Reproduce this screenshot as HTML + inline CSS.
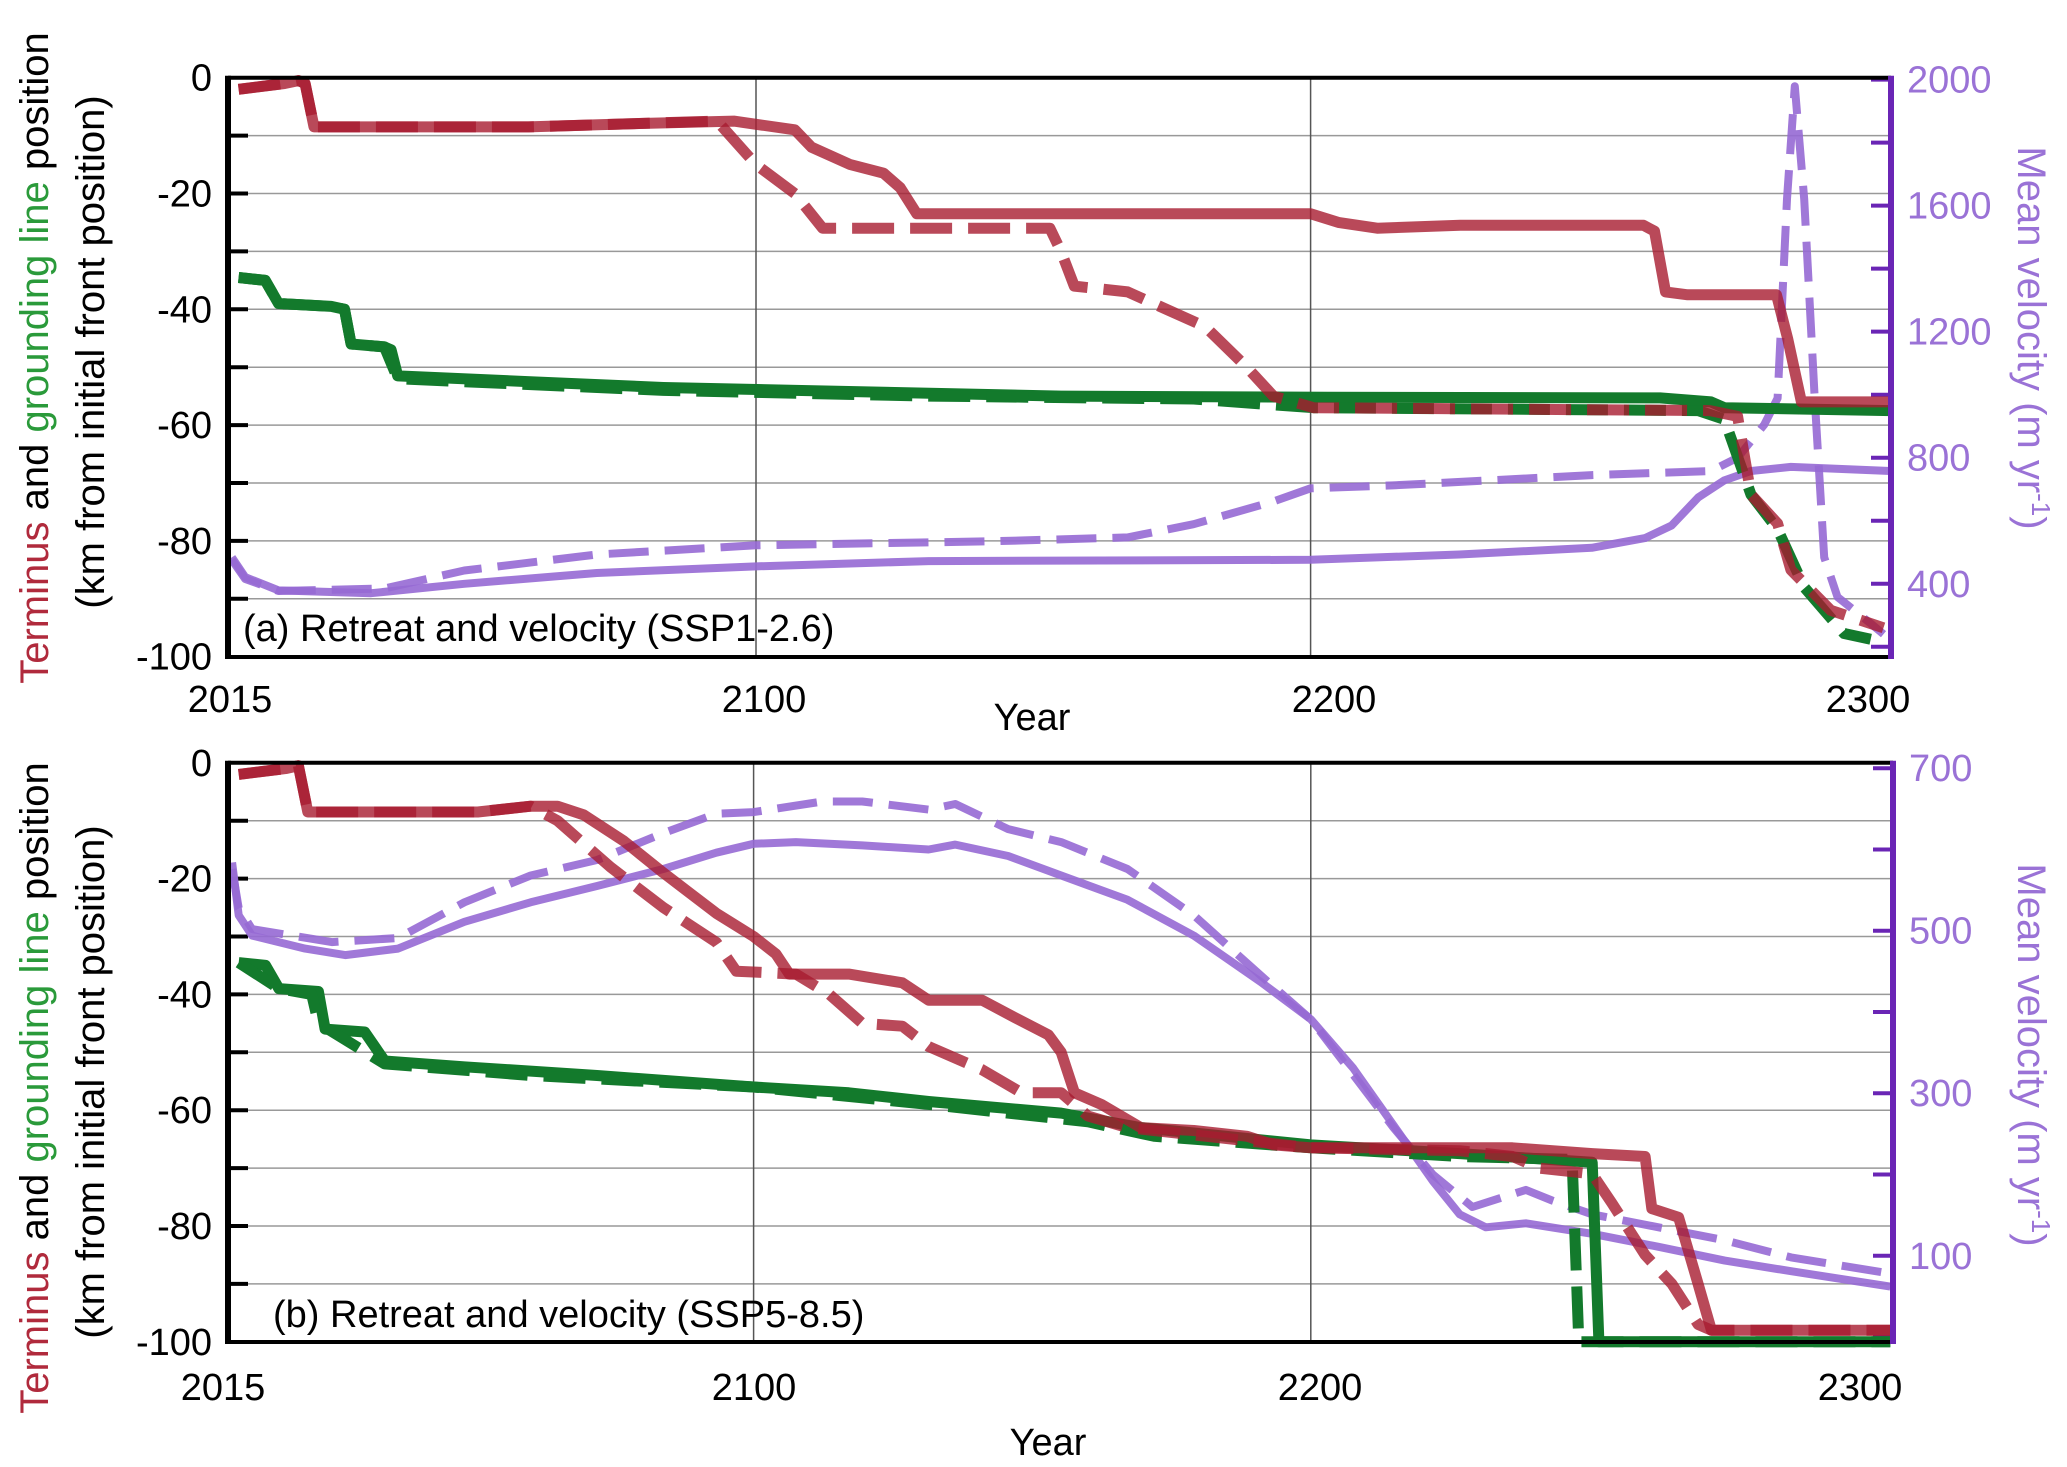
<!DOCTYPE html>
<html><head><meta charset="utf-8"><style>
html,body{margin:0;padding:0;background:#fff;}
svg{display:block;font-family:"Liberation Sans",sans-serif;}
</style></head><body>
<svg id="chart" width="2067" height="1467" viewBox="0 0 2067 1467" xmlns="http://www.w3.org/2000/svg"></svg>
<script>
// ---------- Panel (a) SSP1-2.6 data ----------
const aTermSolidYr = [2006.7,2015,2017.5,2018.7,2020.3,2059,2076,2096,2107,2110,2117,2123,2126,2129,2200,2205,2212,2227,2260,2262,2264,2268,2284,2286,2288.5,2304.5];
const aTermSolidKm = [-2,-1,-0.5,-1,-8.5,-8.5,-8,-7.5,-9,-12,-15,-16.5,-19,-23.5,-23.5,-25,-26,-25.5,-25.5,-26.5,-37,-37.5,-37.5,-45,-56,-56];
const aTermDashYr = [2006.7,2015,2017.5,2018.7,2020.3,2059,2076,2093,2100,2107,2112,2153,2155,2157.4,2167,2174,2181,2188.5,2193.3,2200.5,2272,2277,2279.4,2284.2,2286.6,2293.8,2303.3];
const aTermDashKm = [-2,-1,-0.5,-1,-8.5,-8.5,-8,-7.5,-15,-20,-26,-26,-30,-36,-37,-40,-43,-50,-55,-57,-57.5,-58.5,-72,-77,-85,-92,-95];
const aGlSolidYr = [2006.7,2011.5,2013.9,2023.4,2025.8,2027,2033,2034.2,2035.4,2059.3,2083.3,2107.2,2155,2203,2263,2272.2,2274.6,2304.5];
const aGlSolidKm = [-34.5,-35,-39,-39.5,-40,-46,-46.5,-47,-51.5,-52.5,-53.5,-54,-55,-55.2,-55.3,-56,-57,-57.5];
const aGlDashYr = [2006.7,2011.5,2013.9,2023.4,2025.8,2027,2033,2035.4,2083.3,2131.1,2178.9,2200.5,2269.9,2274.6,2279.4,2284.2,2289,2296.2,2301];
const aGlDashKm = [-34.5,-35,-39,-39.5,-40,-46,-46.5,-52,-54,-55,-55.5,-57,-57.5,-59,-72,-78,-88,-96,-97];
const aVelSolidYr = [2005.5,2007.9,2013.9,2030.6,2047.4,2071.3,2100,2131.1,2200,2226.8,2250.7,2260.3,2265.1,2269.9,2274.6,2279.4,2286.6,2304.5];
const aVelSolidV = [484,421,379,370,400,434,455,472,476,493,514,545,585,674,728,758,771,758];
const aVelDashYr = [2005.5,2007.9,2013.9,2033,2047.4,2071.3,2100,2143.1,2167,2178.9,2193.3,2200,2214.8,2250.7,2272.2,2277,2281.8,2284.2,2285.9,2287.3,2289,2290.9,2292.6,2295,2301,2303.3];
const aVelDashV = [476,415,377,385,442,493,522,535,547,589,661,703,712,745,758,800,905,989,1621,1979,1621,989,484,358,274,240];
// ---------- Panel (b) SSP5-8.5 data ----------
const bTermSolidYr = [2007.6,2016,2018.3,2020,2050.5,2055.2,2060,2064.8,2069.5,2076.7,2083.8,2093.3,2100,2104,2106.4,2117.1,2126.7,2131.4,2141,2146.9,2152.9,2155.2,2157.6,2162.4,2169.5,2179,2188.6,2193.3,2200,2236.2,2250.5,2260,2261.2,2266,2269.5,2271.9,2304];
const bTermSolidKm = [-2,-1,-0.5,-8.5,-8.5,-8,-7.5,-7.5,-9,-13.5,-19,-26,-30,-33,-36.5,-36.5,-38,-41,-41,-44,-47,-50,-57,-59,-63,-63.5,-64.5,-66,-66.5,-66.5,-67.5,-68,-77,-78.5,-90,-98,-98];
const bTermDashYr = [2007.6,2016,2018.3,2020,2050.5,2060,2064.8,2074.3,2083.8,2093.3,2096.9,2107.6,2113.6,2119.5,2126.7,2131.4,2141,2148.1,2155.2,2160,2167.1,2200,2226.7,2236.2,2241,2250.5,2254,2260,2264.8,2269.5,2271.9,2304];
const bTermDashKm = [-2,-1,-0.5,-8.5,-8.5,-7.5,-10,-18,-25,-31,-36,-36.5,-40,-45,-45.5,-49,-53,-57,-57,-61,-63,-66.5,-67,-68,-70,-71,-76,-85,-90,-97,-98,-98];
const bGlSolidYr = [2007.6,2012.4,2014.8,2021.9,2023.1,2030.2,2033.8,2048.1,2071.9,2100,2117.1,2131.4,2155.2,2169.5,2200,2226.7,2250.5,2251.7,2304];
const bGlSolidKm = [-34.5,-35,-39,-39.5,-46,-46.5,-51.5,-52.5,-54,-56,-57,-58.5,-60.5,-63,-66,-67.5,-69,-100,-100];
const bGlDashYr = [2007.6,2014.8,2020.7,2021.9,2033.8,2060,2100,2131.4,2160,2171.9,2200,2226.7,2246.9,2248.1,2304];
const bGlDashKm = [-34.5,-39,-40,-45,-52,-54,-56,-59,-62,-64.5,-66.5,-68,-68.5,-100,-100];
const bVelSolidYr = [2006.4,2007.6,2010,2019.5,2026.7,2036.2,2048.1,2060,2071.9,2083.8,2093.3,2100,2107.6,2119.5,2131.4,2136.2,2145.7,2155.2,2167.1,2179,2191,2200,2207.6,2214.8,2221.9,2226.7,2231.4,2238.6,2250.5,2262.4,2274.3,2286.2,2304];
const bVelSolidV = [584,519,494,478,470,478,511,535,555,576,596,607,609,605,600,606,592,568,538,494,437,391,331,261,192,151,135,140,127,111,94,81,62];
const bVelDashYr = [2006.4,2007.6,2010,2024.3,2036.2,2048.1,2060,2071.9,2083.8,2093.3,2100,2112.4,2119.5,2131.4,2136.2,2145.7,2155.2,2167.1,2179,2191,2200,2207.6,2214.8,2221.9,2229,2238.6,2243.3,2250.5,2262.4,2274.3,2286.2,2304];
const bVelDashV = [576,528,502,486,491,535,568,587,620,644,646,659,659,649,656,625,609,576,519,445,391,323,258,200,160,181,168,151,135,119,98,78];

const kmTicks = [0,-20,-40,-60,-80,-100];
const yearTickLabels = ['2015','2100','2200','2300'];
const aVelTicks = [2000,1600,1200,800,400];
const bVelTicks = [700,500,300,100];

const NS='http://www.w3.org/2000/svg';
const svg=document.getElementById('chart');
function el(tag,attrs,parent){const e=document.createElementNS(NS,tag);for(const k in attrs)e.setAttribute(k,attrs[k]);(parent||svg).appendChild(e);return e;}

const RED='rgba(168,28,48,0.8)', GREEN='#137a2c', PURPLE='rgba(150,105,212,0.9)', AXP='#6a25b5';

function panel(cfg){
  const g=el('g',{});
  
  
  const X=yr=>cfg.x0+(yr-2100)*cfg.xs;
  const Y=km=>cfg.top+(-km)*5.79;
  const V=v=>cfg.vTopY+(cfg.vTop-v)*cfg.vs;
  for(let k=-10;k>-100;k-=10){
    const l=el('line',{x1:cfg.L,x2:cfg.R,y1:Y(k),y2:Y(k),stroke:'#999','stroke-width':1.5},g);
    
    
    const t=el('line',{x1:cfg.L,x2:cfg.L+20,y1:Y(k),y2:Y(k),stroke:'#000','stroke-width':4},g);
    
    
  }
  [2100,2200].forEach(yr=>{
    const l=el('line',{x1:X(yr),x2:X(yr),y1:cfg.top,y2:cfg.bot,stroke:'#555','stroke-width':1.5},g);
    
    
  });
  for(let v=cfg.vMinorStart;v<=cfg.vTop;v+=cfg.vMinor){
    if(V(v)<cfg.top-1||V(v)>cfg.bot+1)continue;
    const t=el('line',{x1:cfg.R-20,x2:cfg.R,y1:V(v),y2:V(v),stroke:AXP,'stroke-width':4},g);
    
    
  }
  function line(xs,ys,fn,color,w,dash,name){
    const d=xs.map((x,i)=>(i?'L':'M')+X(x).toFixed(1)+','+fn(ys[i]).toFixed(1)).join('');
    const p=el('path',{d:d,fill:'none',stroke:color,'stroke-width':w,'stroke-linejoin':'round','stroke-linecap':'butt'},g);
    if(dash)p.setAttribute('stroke-dasharray',dash);
    
    
  }
  line(cfg.velSolid[0],cfg.velSolid[1],V,PURPLE,8,null,'velocity-solid');
  line(cfg.velDash[0],cfg.velDash[1],V,PURPLE,8,'40 16','velocity-dashed');
  line(cfg.glSolid[0],cfg.glSolid[1],Y,GREEN,11,null,'grounding-line-solid');
  line(cfg.glDash[0],cfg.glDash[1],Y,GREEN,11,'42 16','grounding-line-dashed');
  line(cfg.termSolid[0],cfg.termSolid[1],Y,RED,11,null,'terminus-solid');
  line(cfg.termDash[0],cfg.termDash[1],Y,RED,11,'42 16','terminus-dashed');
  const fr=el('path',{d:`M${cfg.L},${cfg.top}H${cfg.R}M${cfg.L},${cfg.bot}H${cfg.R}`,stroke:'#000','stroke-width':4,fill:'none'},g);
  
  
  const la=el('line',{x1:cfg.L,x2:cfg.L,y1:cfg.top-2,y2:cfg.bot+2,stroke:'#000','stroke-width':6},g);
  
  
  const ra=el('line',{x1:cfg.R,x2:cfg.R,y1:cfg.top-2,y2:cfg.bot+2,stroke:AXP,'stroke-width':6},g);
  
  
  kmTicks.forEach(k=>{
    const t=el('text',{x:cfg.L-16,y:Y(k)+13,'text-anchor':'end','font-size':38,fill:'#000'},g);
    t.textContent=k;
    
    
  });
  cfg.vTicks.forEach(v=>{
    const t=el('text',{x:cfg.R+16,y:V(v)+13,'font-size':38,fill:'#9a72d6'},g);
    t.textContent=v;
    
    
  });
  yearTickLabels.forEach((s,i)=>{
    const t=el('text',{x:cfg.xl[i],y:cfg.xly,'text-anchor':'middle','font-size':38,fill:'#000'},g);
    t.textContent=s;
    
    
  });
  const yt=el('text',{x:cfg.yearX,y:cfg.yearY,'text-anchor':'middle','font-size':38,fill:'#000'},g);
  yt.textContent='Year';
  
  
  const pl=el('text',{x:cfg.plX,y:cfg.plY,'font-size':38,fill:'#000'},g);
  pl.textContent=cfg.label;
  
  
  const lt=el('text',{transform:`translate(48,${cfg.titleY}) rotate(-90)`,'text-anchor':'middle','font-size':40,fill:'#000'},g);
  lt.innerHTML='<tspan fill="#b02a3c">Terminus</tspan> and <tspan fill="#2a9a3a">grounding line</tspan> position';
  
  
  const lt2=el('text',{transform:`translate(104,${cfg.titleY-6}) rotate(-90)`,'text-anchor':'middle','font-size':40,fill:'#000'},g);
  lt2.textContent='(km from initial front position)';
  
  
  const rt=el('text',{transform:`translate(2018,${cfg.rTitleY}) rotate(90)`,'text-anchor':'middle','font-size':40,fill:'#9a72d6'},g);
  rt.innerHTML='Mean velocity  (m yr<tspan dy="-14" font-size="26">-1</tspan><tspan dy="14">)</tspan>';
  
  
}

panel({name:'panel-a',x0:756,xs:5.546,L:228,R:1891,top:77.7,bot:657,vTop:2000,vTopY:79.6,vs:0.3151,vMinor:200,vMinorStart:200,vTicks:aVelTicks,
  xl:[230,764,1334,1868],xly:712,yearX:1032,yearY:730,plX:243,plY:641,label:'(a) Retreat and velocity (SSP1-2.6)',titleY:358,rTitleY:338,
  termSolid:[aTermSolidYr,aTermSolidKm],termDash:[aTermDashYr,aTermDashKm],glSolid:[aGlSolidYr,aGlSolidKm],glDash:[aGlDashYr,aGlDashKm],
  velSolid:[aVelSolidYr,aVelSolidV],velDash:[aVelDashYr,aVelDashV]});
panel({name:'panel-b',x0:753.6,xs:5.572,L:228,R:1893,top:762.8,bot:1342,vTop:700,vTopY:768.2,vs:0.8126,vMinor:100,vMinorStart:0,vTicks:bVelTicks,
  xl:[223,754,1320,1860],xly:1400,yearX:1048,yearY:1455,plX:273,plY:1327,label:'(b) Retreat and velocity (SSP5-8.5)',titleY:1088,rTitleY:1055,
  termSolid:[bTermSolidYr,bTermSolidKm],termDash:[bTermDashYr,bTermDashKm],glSolid:[bGlSolidYr,bGlSolidKm],glDash:[bGlDashYr,bGlDashKm],
  velSolid:[bVelSolidYr,bVelSolidV],velDash:[bVelDashYr,bVelDashV]});
</script>
</body></html>
